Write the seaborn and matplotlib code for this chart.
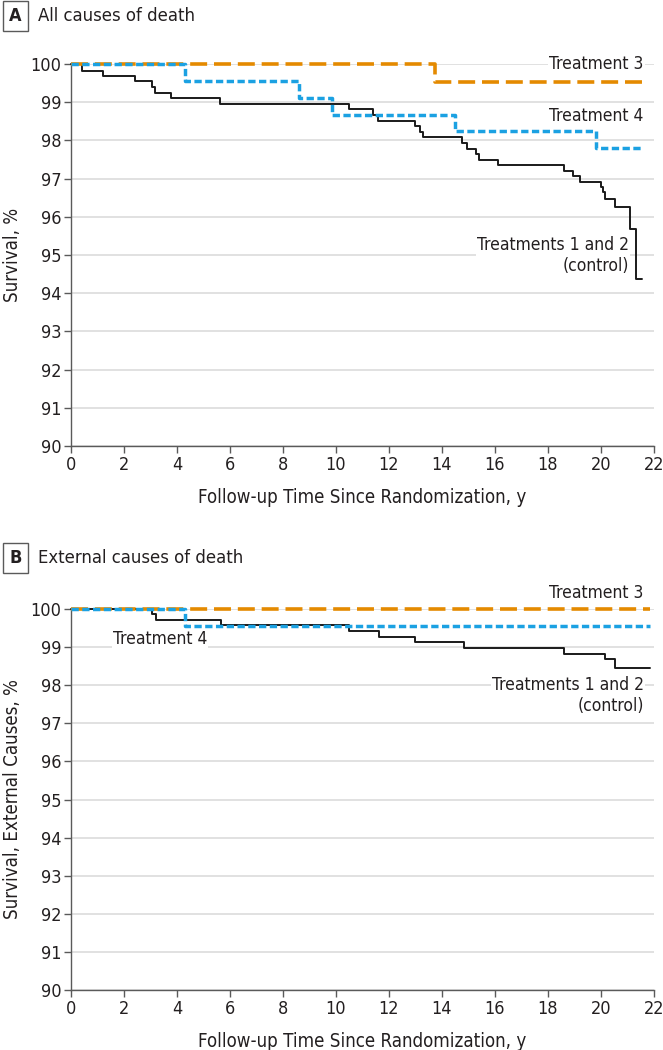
import matplotlib
matplotlib.use("Agg")
import matplotlib.pyplot as plt
import seaborn as sns

sns.set_theme(style="white")
plt.rcParams['font.family'] = ['DejaVu Sans']
plt.rcParams['font.stretch'] = 'condensed'

# panel A - all causes of death
a_ctrl_t = [0, 0.40, 1.21, 2.40, 3.07, 3.18, 3.78, 5.63, 10.51, 11.41, 11.60, 12.98,
            13.19, 13.29, 14.75, 14.94, 15.29, 15.42, 16.13, 18.61, 18.96, 19.23,
            20.02, 20.08, 20.17, 20.52, 21.11, 21.32, 21.55]
a_ctrl_s = [100, 99.83, 99.68, 99.55, 99.39, 99.24, 99.11, 98.95, 98.82, 98.66, 98.52,
            98.38, 98.23, 98.09, 97.93, 97.78, 97.64, 97.50, 97.36, 97.21, 97.06,
            96.91, 96.77, 96.64, 96.48, 96.26, 95.69, 94.37, 94.37]
a_t3_t = [0, 13.75, 21.55]
a_t3_s = [100, 99.54, 99.54]
a_t4_t = [0, 4.32, 8.60, 9.87, 14.51, 19.82, 21.55]
a_t4_s = [100, 99.56, 99.10, 98.67, 98.25, 97.80, 97.80]

# panel B - external causes of death
b_ctrl_t = [0, 3.07, 3.19, 5.66, 10.50, 11.63, 12.98, 14.82, 18.61, 20.17, 20.55, 21.86]
b_ctrl_s = [100, 99.86, 99.71, 99.58, 99.42, 99.27, 99.13, 98.98, 98.82, 98.68, 98.46, 98.46]
b_t3_t = [0, 21.86]
b_t3_s = [100, 100]
b_t4_t = [0, 4.32, 21.86]
b_t4_s = [100, 99.56, 99.56]

x_ticks = list(range(0, 23, 2))
y_ticks = list(range(90, 101))

ORANGE = "#E48A00"
BLUE = "#1BA1E2"
TXT = "#231F20"
AXC = "#5a5a5a"
LBL = 12.5

fig = plt.figure(figsize=(6.63, 10.5), dpi=100)


def panel(ax, ctrl_t, ctrl_s, t3_t, t3_s, t4_t, t4_s, ylabel):
    sns.lineplot(x=ctrl_t, y=ctrl_s, ax=ax, drawstyle="steps-post", color="#1a1a1a",
                 linewidth=1.4, estimator=None, zorder=3)
    sns.lineplot(x=t3_t, y=t3_s, ax=ax, drawstyle="steps-post", color=ORANGE,
                 linewidth=2.6, estimator=None, zorder=4)
    ax.lines[-1].set_dashes([4.7, 1.9])
    sns.lineplot(x=t4_t, y=t4_s, ax=ax, drawstyle="steps-post", color=BLUE,
                 linewidth=2.5, estimator=None, zorder=5)
    ax.lines[-1].set_dashes([2.1, 1.0])
    for ln in ax.lines:
        ln.set_clip_on(False)
    ax.set_xlim(0, 22)
    ax.set_ylim(90, 100)
    ax.set_xticks(x_ticks)
    ax.set_yticks(y_ticks)
    ax.grid(axis="y", color="#dedede", linewidth=1.3, zorder=0)
    ax.set_axisbelow(True)
    for s in ["top", "right"]:
        ax.spines[s].set_visible(False)
    for s in ["left", "bottom"]:
        ax.spines[s].set_color(AXC)
        ax.spines[s].set_linewidth(1.0)
    ax.tick_params(axis="both", direction="out", length=5, width=1, color=AXC,
                   labelsize=13, labelcolor=TXT, pad=2, left=True, bottom=True)
    ax.set_xlabel("Follow-up Time Since Randomization, y", fontsize=13.4, color=TXT, labelpad=10)
    ax.set_ylabel(ylabel, fontsize=13.4, color=TXT, labelpad=6)


box = dict(boxstyle="square,pad=0.05", fc="white", ec="none")

axA = fig.add_axes([0.1071, 0.5752, 0.879, 0.3638])
panel(axA, a_ctrl_t, a_ctrl_s, a_t3_t, a_t3_s, a_t4_t, a_t4_s, "Survival, %")
axA.text(21.62, 100, "Treatment 3", ha="right", va="center", fontsize=LBL, color=TXT,
         bbox=box, clip_on=False, zorder=6)
axA.text(21.62, 98.64, "Treatment 4", ha="right", va="center", fontsize=LBL, color=TXT,
         bbox=box, zorder=6)
axA.text(21.06, 94.98, "Treatments 1 and 2\n(control)", ha="right", va="center",
         multialignment="right", fontsize=LBL, color=TXT, bbox=box, zorder=6,
         linespacing=1.2)

axB = fig.add_axes([0.1071, 0.0571, 0.879, 0.3629])
panel(axB, b_ctrl_t, b_ctrl_s, b_t3_t, b_t3_s, b_t4_t, b_t4_s, "Survival, External Causes, %")
axB.text(21.62, 100.43, "Treatment 3", ha="right", va="center", fontsize=LBL, color=TXT,
         bbox=box, clip_on=False, zorder=6)
axB.text(1.58, 99.21, "Treatment 4", ha="left", va="center", fontsize=LBL, color=TXT,
         bbox=box, zorder=6)
axB.text(21.62, 97.72, "Treatments 1 and 2\n(control)", ha="right", va="center",
         multialignment="right", fontsize=LBL, color=TXT, bbox=box, zorder=6,
         linespacing=1.2)

# panel headings
for letter, title, ypix in [("A", "All causes of death", 16), ("B", "External causes of death", 558)]:
    yf = 1 - ypix / 1050
    fig.text(15.5 / 663, yf, letter, ha="center", va="center", fontsize=13, fontweight="bold",
             color=TXT, bbox=dict(boxstyle="square,pad=0.35", fc="white", ec=AXC, lw=1.0))
    fig.text(38 / 663, yf, title, ha="left", va="center", fontsize=13.2, color=TXT)

fig.savefig("out.png", dpi=100)
